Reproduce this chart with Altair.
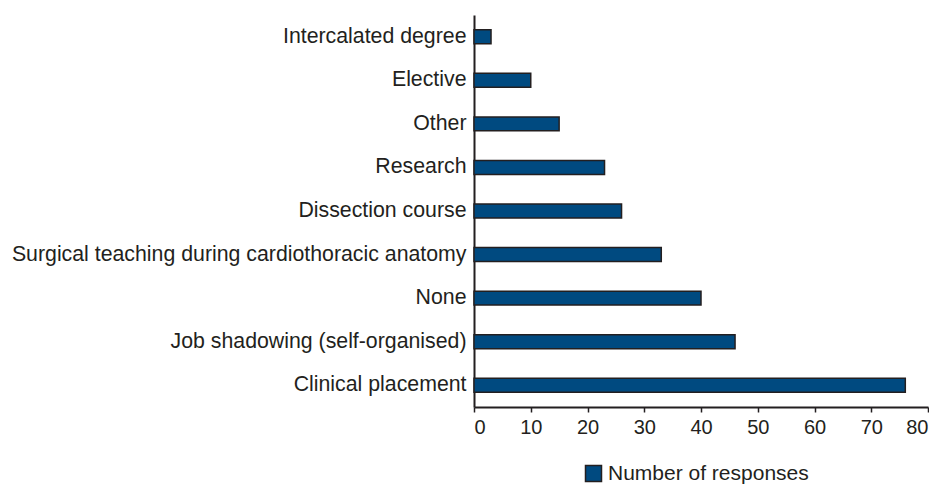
import altair as alt
import pandas as pd

categories = [
    "Intercalated degree",
    "Elective",
    "Other",
    "Research",
    "Dissection course",
    "Surgical teaching during cardiothoracic anatomy",
    "None",
    "Job shadowing (self-organised)",
    "Clinical placement",
]
values = [3, 10, 15, 23, 26, 33, 40, 46, 76]
series = ["Number of responses"] * len(categories)

df = pd.DataFrame({"category": categories, "value": values, "series": series})

FONT = "Liberation Sans"
TEXT = "#231f20"

chart = alt.Chart(df).mark_bar(
    stroke="#231f20", strokeWidth=1.5
).encode(
    x=alt.X(
        "value:Q",
        scale=alt.Scale(domain=[0, 80], nice=False),
        axis=alt.Axis(
            values=[0, 10, 20, 30, 40, 50, 60, 70, 80],
            title=None, grid=False, domainColor=TEXT, domainWidth=2,
            tickColor=TEXT, tickWidth=1.5, tickSize=5,
            labelFont=FONT, labelFontSize=20, labelColor=TEXT, labelPadding=5,
        ),
    ),
    y=alt.Y(
        "category:N",
        sort=categories,
        scale=alt.Scale(paddingInner=0.68, paddingOuter=0.34),
        axis=alt.Axis(
            title=None, ticks=False, domainColor=TEXT, domainWidth=2,
            labelFont=FONT, labelFontSize=21.3, labelColor=TEXT, labelPadding=8,
            labelLimit=800,
        ),
    ),
    color=alt.Color(
        "series:N",
        scale=alt.Scale(range=["#004a80"]),
        legend=alt.Legend(
            title=None, orient="none", legendX=109, legendY=448,
            symbolType="square", symbolSize=256, symbolStrokeColor=TEXT,
            symbolStrokeWidth=1.5, labelFont=FONT, labelFontSize=21,
            labelColor=TEXT, symbolOffset=0, labelLimit=400,
        ),
    ),
).properties(
    width=454, height=392,
    padding={"left": 3, "top": 7, "right": 0, "bottom": 0},
).configure_view(stroke=None)

chart.save("out.html", embed_options={"renderer": "svg", "actions": False})
